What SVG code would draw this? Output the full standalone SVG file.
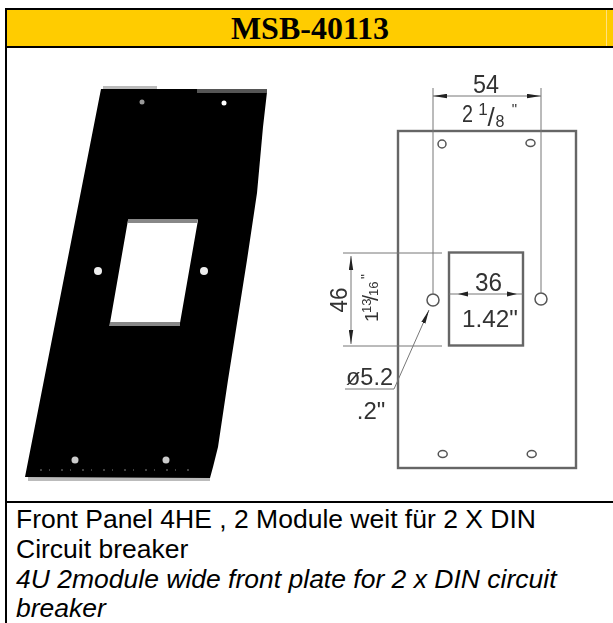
<svg xmlns="http://www.w3.org/2000/svg" width="613" height="623" viewBox="0 0 613 623">
<style>
.dim{font-family:"Liberation Sans",Arial,sans-serif;fill:#333}
.cap{font-family:"Liberation Sans",Arial,sans-serif;font-size:26.5px;fill:#000}
.thin{stroke:#777;stroke-width:1;fill:none}
.thick{stroke:#666;stroke-width:2.4;fill:none}
.hole{stroke:#555;stroke-width:1.5;fill:#fff}
.ah{fill:#222}
</style>
<defs>
<filter id="soft" x="-5%" y="-5%" width="110%" height="110%"><feGaussianBlur stdDeviation="0.7"/></filter>
<marker id="a" viewBox="0 0 14 5" refX="14" refY="2.5" markerWidth="14" markerHeight="5" markerUnits="userSpaceOnUse" orient="auto-start-reverse"><path d="M0 0.3L14 2.5L0 4.7Z" fill="#222"/></marker>
</defs>
<rect width="613" height="623" fill="#fff"/>
<rect x="6" y="9" width="607" height="38" fill="#fc0"/>
<rect x="606" y="10" width="1" height="36" fill="#ffe080"/>
<g id="table" fill="none" stroke="#000" stroke-width="2">
<path d="M6 623V9H613M6 47H613M6 502H613"/>
</g>
<text x="310" y="39" text-anchor="middle" font-family="'Liberation Serif','Times New Roman',serif" font-weight="700" font-size="32">MSB-40113</text>
<g id="panel">
<path d="M103 86H157V89H103ZM28 477H210V481H28Z" fill="#bbb"/>
<path fill-rule="evenodd" fill="#000" d="M101 89L197 89L267 92L263 127L257 193L247 260L228 380L218 447L213 467L210 478L25 477ZM128 220L110 323H180L198 220Z"/>
<path d="M197 89H267V93H197Z" fill="#555"/>
<path d="M128 219H198L197 223H128ZM110 322H180V326H109Z" fill="#888"/>
<path d="M40 470H190" stroke="#555" stroke-width="1.5" stroke-dasharray="2 7 1 11" fill="none"/>
<circle cx="142" cy="102" r="2.5" fill="#999"/>
<circle cx="224" cy="103" r="2.5" fill="#fff"/>
<circle cx="98" cy="271" r="4" fill="#eee"/>
<circle cx="204" cy="271" r="4" fill="#eee"/>
<circle cx="75" cy="460" r="3.5" fill="#ccc"/>
<circle cx="166" cy="460" r="3.5" fill="#ccc"/>
</g>
<g filter="url(#soft)">
<g id="drawing">
<rect class="thick" x="398" y="131" width="178" height="337"/>
<rect class="thick" x="449" y="252.5" width="74" height="93"/>
<ellipse class="hole" cx="442" cy="144" rx="4" ry="4"/>
<ellipse class="hole" cx="530.5" cy="143" rx="4.5" ry="3.5"/>
<circle class="hole" cx="433" cy="300" r="6"/>
<circle class="hole" cx="541" cy="299" r="6"/>
<ellipse class="hole" cx="442.7" cy="454" rx="4.5" ry="3.5"/>
<ellipse class="hole" cx="531.7" cy="454" rx="4.5" ry="3.5"/>
</g>
<g id="connectors">
<path class="thin" d="M433 88V294M541 88V293M343 253H442M343 346H442"/>
<line class="thin" x1="433" y1="96" x2="541" y2="96" marker-start="url(#a)" marker-end="url(#a)"/>
<line class="thin" x1="351" y1="256" x2="351" y2="344" marker-start="url(#a)" marker-end="url(#a)"/>
<line class="thin" x1="449" y1="294" x2="523" y2="294"/>
<path class="ah" d="M458 294L468 291.5V296.5ZM517 294L507 291.5V296.5Z"/>
<polyline class="thin" points="345,389 394,389 398,380 429,310" marker-end="url(#a)"/>
</g>
<g id="labels" class="dim">
<text x="486" y="93" font-size="25" text-anchor="middle" textLength="26" lengthAdjust="spacingAndGlyphs">54</text>
<text x="467.5" y="122" font-size="24" text-anchor="middle" textLength="11" lengthAdjust="spacingAndGlyphs">2</text>
<text x="483" y="115" font-size="17" text-anchor="middle">1</text>
<text x="491" y="126" font-size="26" text-anchor="middle">/</text>
<text x="500" y="127" font-size="16" text-anchor="middle">8</text>
<text x="514.5" y="114" font-size="15" text-anchor="middle">"</text>
<text x="488.5" y="291" font-size="25" text-anchor="middle" textLength="27" lengthAdjust="spacingAndGlyphs">36</text>
<text x="490" y="327" font-size="24" text-anchor="middle" textLength="56" lengthAdjust="spacingAndGlyphs">1.42"</text>
<text transform="translate(347 300) rotate(-90)" font-size="23" text-anchor="middle" textLength="25" lengthAdjust="spacingAndGlyphs">46</text>
<g transform="translate(378 322) rotate(-90)">
<text x="0" y="0" font-size="19">1</text>
<text x="9" y="-7" font-size="13">13</text>
<text x="21" y="0" font-size="22">/</text>
<text x="26" y="0" font-size="13">16</text>
<text x="43" y="-7" font-size="14">"</text>
</g>
<text x="369.5" y="385" font-size="23" text-anchor="middle" textLength="47" lengthAdjust="spacingAndGlyphs">ø5.2</text>
<text x="371" y="419" font-size="24" text-anchor="middle">.2"</text>
</g>
</g>
<g id="caption" class="cap">
<text x="16" y="528">Front Panel 4HE , 2 Module weit für 2 X DIN</text>
<text x="16" y="558">Circuit breaker</text>
<text x="16" y="588" font-style="italic">4U 2module wide front plate for 2 x DIN circuit</text>
<text x="16" y="617" font-style="italic">breaker</text>
</g>
</svg>
